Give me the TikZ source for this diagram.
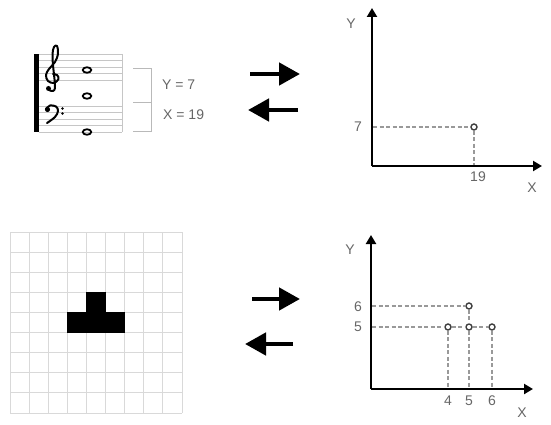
\documentclass[tikz,border=0pt]{standalone}
\usepackage{fontspec}
\setmainfont{Liberation Sans}
\usetikzlibrary{arrows.meta, positioning, shapes.geometric}

\begin{document}
\begin{tikzpicture}[x=1pt,y=-1pt,
                    axis line/.style={line width=2.6pt,-{Triangle[length=9pt,width=10pt]}},
                    guide line/.style={gray!80,line width=2pt,dash pattern=on 4pt off 2.5pt},
                    dot node/.style={circle,draw=gray!50!black,line width=1.4pt,fill=white,inner sep=0pt,minimum size=6pt},
                    label node/.style={text=gray!80!black,font=\fontsize{14}{14}\selectfont,inner sep=0pt},
                    swap arrow/.style={line width=4.6pt,-{Triangle[length=21pt,width=22pt]}},
                    staff line/.style={gray!45,line width=0.8pt},
                    clef line/.style={line width=2pt,line cap=round,line join=round},
                    whole note/.style={ellipse,draw,line width=1.8pt,inner sep=0pt,minimum width=8.5pt,minimum height=5.5pt},
                    grid line/.style={gray!30,line width=0.8pt}]

  \useasboundingbox (0,0) rectangle (551,425);

  % grand staff
  \fill (34,54) rectangle (39,132);
  \foreach \s in {0,...,4}
  {
    \draw[staff line] (39,54+6.5*\s) -- (122,54+6.5*\s);
    \draw[staff line] (39,106+6.5*\s) -- (122,106+6.5*\s);
  }
  \draw[staff line] (122,54) -- (122,132);

  % treble clef
  \draw[clef line] plot[smooth,tension=0.6] coordinates
    {(53,74) (57,75) (58.5,79) (54,83) (48,81) (46,75) (49,69) (55,62) (58,54) (57,46) (54,47) (52.5,54) (53,65) (55,86) (53,91) (49,90)};
  \fill (48.5,88.5) circle (2.5pt);
  % bass clef
  \draw[clef line] plot[smooth,tension=0.6] coordinates
    {(46,109) (50,105.5) (56,106.5) (58,111) (55,117) (47,123)};
  \fill (47.5,109.5) circle (2.6pt);
  \fill (62.5,108.5) circle (1.4pt);
  \fill (62.5,113.5) circle (1.4pt);

  \node[whole note] (n1) at (87,70) {};
  \node[whole note] (n2) at (87,96) {};
  \node[whole note] (n3) at (87,132) {};

  % bracket and values
  \draw[gray!55,line width=0.8pt] (133,68) -| (151,131) -- (133,131);
  \draw[gray!55,line width=0.8pt] (133,102) -- (151,102);
  \node[label node,anchor=west] (yval) at (162,85) {Y = 7};
  \node[label node,anchor=west] (xval) at (163,115) {X = 19};

  % arrows, top
  \coordinate (r1a) at (250,74);
  \coordinate (r1b) at (300,74);
  \coordinate (l1a) at (298,110);
  \coordinate (l1b) at (248,110);
  \draw[swap arrow] (r1a) -- (r1b);
  \draw[swap arrow] (l1a) -- (l1b);

  % first plot
  \coordinate (o1) at (372,166);
  \coordinate (x1) at (542,166);
  \coordinate (y1) at (372,8);
  \draw[axis line] (o1) -- (x1);
  \draw[axis line] (o1) -- (y1);
  \node[label node] (ylab1) at (351,24) {Y};
  \node[label node] (xlab1) at (532,188) {X};
  \node[label node] (yt1) at (358,127) {7};
  \node[label node] (xt1) at (478,177) {19};
  \coordinate (ya1) at (373,127);
  \coordinate (xa1) at (474,165);
  \node[dot node] (p1) at (474,127) {};

  \path[guide line]
  (ya1) edge (p1)
  (p1) edge (xa1);

  % pixel grid
  \foreach \i in {0,...,9}
  {
    \draw[grid line] (10+19.1*\i,232) -- (10+19.1*\i,413);
    \draw[grid line] (10,232+20.1*\i) -- (182,232+20.1*\i);
  }
  \fill (86.4,292.3) rectangle (105.5,312.4);
  \fill (67.3,312.4) rectangle (124.6,332.5);

  % arrows, bottom
  \coordinate (r2a) at (252,299);
  \coordinate (r2b) at (300,299);
  \coordinate (l2a) at (293,344);
  \coordinate (l2b) at (245,344);
  \draw[swap arrow] (r2a) -- (r2b);
  \draw[swap arrow] (l2a) -- (l2b);

  % second plot
  \coordinate (o2) at (371,389);
  \coordinate (x2) at (533,389);
  \coordinate (y2) at (371,235);
  \draw[axis line] (o2) -- (x2);
  \draw[axis line] (o2) -- (y2);
  \node[label node] (ylab2) at (350,250) {Y};
  \node[label node] (xlab2) at (522,413) {X};
  \node[label node] (yt6) at (358,307) {6};
  \node[label node] (yt5) at (358,327) {5};
  \node[label node] (xt4) at (448,401) {4};
  \node[label node] (xt5) at (469,401) {5};
  \node[label node] (xt6) at (492,401) {6};
  \coordinate (y6) at (372,306);
  \coordinate (y5) at (372,327);
  \coordinate (x4) at (448,388);
  \coordinate (x5) at (469,388);
  \coordinate (x6) at (492,388);
  \node[dot node] (q4) at (448,327) {};
  \node[dot node] (q5) at (469,327) {};
  \node[dot node] (q6) at (492,327) {};
  \node[dot node] (q56) at (469,306) {};

  \path[guide line]
  (y6) edge (q56)
  (y5) edge (q4)
  (q4) edge (q5)
  (q5) edge (q6)
  (q56) edge (q5)
  (q5) edge (x5)
  (q4) edge (x4)
  (q6) edge (x6);

\end{tikzpicture}
\end{document}
